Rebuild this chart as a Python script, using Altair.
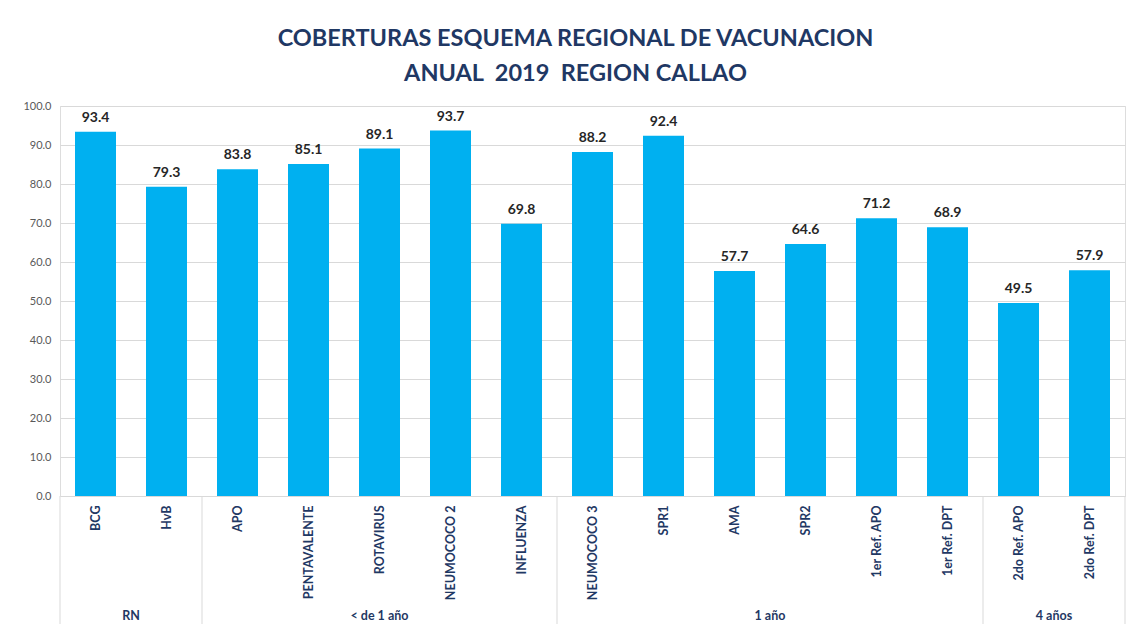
import altair as alt
import pandas as pd

categories = ["BCG", "HvB", "APO", "PENTAVALENTE", "ROTAVIRUS", "NEUMOCOCO 2", "INFLUENZA",
              "NEUMOCOCO 3", "SPR1", "AMA", "SPR2", "1er Ref. APO", "1er Ref. DPT",
              "2do Ref. APO", "2do Ref. DPT"]
values = [93.4, 79.3, 83.8, 85.1, 89.1, 93.7, 69.8, 88.2, 92.4, 57.7, 64.6, 71.2, 68.9, 49.5, 57.9]
group_names = ["RN", "< de 1 año", "1 año", "4 años"]
group_sizes = [2, 5, 6, 2]
y_ticks = [0, 10, 20, 30, 40, 50, 60, 70, 80, 90, 100]
title_lines = ["COBERTURAS ESQUEMA REGIONAL DE VACUNACION",
               "ANUAL\u00a0 2019\u00a0 REGION CALLAO"]

FONT = "Lato"
NAVY = "#1F3864"
BLUE = "#00B0F0"
GRID = "#D9D9D9"

n = len(categories)
df = pd.DataFrame({"idx": list(range(n)), "cat": categories, "val": values})

starts = []
s = 0
for size in group_sizes:
    starts.append(s)
    s += size
groups_df = pd.DataFrame({
    "name": group_names,
    "center": [st + (sz - 1) / 2 for st, sz in zip(starts, group_sizes)],
})
bounds_df = pd.DataFrame({"b": [st - 0.5 for st in starts] + [n - 0.5]})

label_expr = "[" + ",".join("'" + c + "'" for c in categories) + "][datum.value]"

x_scale = alt.Scale(domain=[-0.5, n - 0.5], nice=False, zero=False, padding=0)
x_axis = alt.Axis(values=list(range(n)), labelExpr=label_expr, labelAngle=270,
                  labelAlign="right", labelBaseline="middle", labelPadding=9,
                  labelFont=FONT, labelFontSize=12.5, labelFontWeight="bold",
                  labelColor=NAVY, ticks=False, domain=False, grid=False, title=None,
                  labelOverlap=False, labelFlush=False, labelBound=False)
y_scale = alt.Scale(domain=[0, 100], nice=False, padding=0)
y_axis = alt.Axis(values=y_ticks, format=".1f", labelColor="#595959", labelFontSize=11,
                  labelFont=FONT, labelPadding=9, ticks=False, domain=False,
                  gridColor=GRID, title=None)

base = alt.Chart(df)
bars = base.mark_bar(size=41, color=BLUE).encode(
    x=alt.X("idx:Q", scale=x_scale, axis=x_axis),
    y=alt.Y("val:Q", scale=y_scale, axis=y_axis),
)
labels = base.mark_text(dy=-10, baseline="alphabetic", fontSize=14, fontWeight="bold",
                        color="#262626", font=FONT).encode(
    x=alt.X("idx:Q", scale=x_scale, axis=x_axis),
    y=alt.Y("val:Q", scale=y_scale, axis=y_axis),
    text=alt.Text("val:Q", format=".1f"),
)
rules = alt.Chart(bounds_df).mark_rule(color=GRID, strokeWidth=1).encode(
    x=alt.X("b:Q", scale=x_scale, axis=x_axis),
    y=alt.value(390),
    y2=alt.value(518),
)
group_text = alt.Chart(groups_df).mark_text(fontSize=12.5, fontWeight="bold", color=NAVY,
                                            font=FONT, baseline="middle").encode(
    x=alt.X("center:Q", scale=x_scale, axis=x_axis),
    y=alt.value(510),
    text="name:N",
)

chart = alt.layer(bars, labels, rules, group_text).properties(
    width=1065,
    height=390,
    title=alt.Title(title_lines, font=FONT, fontSize=23.5, fontWeight="bold", color=NAVY,
                    anchor="middle", dx=-17, offset=15, lineHeight=35),
    padding={"left": 52, "top": 98, "right": 4, "bottom": 130},
    autosize="none",
).configure_view(stroke=None).configure(background="white")

chart.save("out.html", embed_options={"renderer": "svg", "actions": False})
